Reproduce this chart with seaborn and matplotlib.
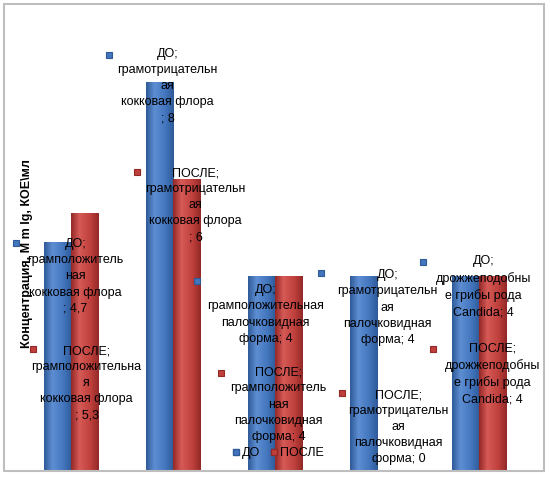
import matplotlib
matplotlib.use('Agg')
import matplotlib.pyplot as plt
import matplotlib.transforms as mtransforms
from matplotlib.colors import LinearSegmentedColormap
from matplotlib.lines import Line2D
from matplotlib.patches import Rectangle
import numpy as np
import pandas as pd
import seaborn as sns

categories = ['грамположительная кокковая флора', 'грамотрицательная кокковая флора',
              'грамположительная палочковидная форма', 'грамотрицательная палочковидная форма',
              'дрожжеподобные грибы рода Candida']
series = ['ДО', 'ПОСЛЕ']
before = [4.7, 8, 4, 4, 4]
after = [5.3, 6, 4, 0, 4]
y_label = 'Концентрация, M m lg, КОЕ\\мл'

# переносы строк в подписях, как в исходной диаграмме (ДО, ПОСЛЕ)
wrapped = [
    ('грамположитель\nная\nкокковая флора\n', 'грамположительна\nя\nкокковая флора\n'),
    ('грамотрицательн\nая\nкокковая флора\n', 'грамотрицательн\nая\nкокковая флора\n'),
    ('грамположительная\nпалочковидная\nформа', 'грамположитель\nная\nпалочковидная\nформа'),
    ('грамотрицательн\nая\nпалочковидная\nформа', 'грамотрицательн\nая\nпалочковидная\nформа'),
    ('дрожжеподобны\nе грибы рода\nCandida', 'дрожжеподобны\nе грибы рода\nCandida'),
]

# смещения подписей (пиксели) от верха столбца: текст (dx, dy), маркер (mdx, mdy)
label_offsets = {
    'ДО': [(18, 4), (8, -26), (4, 16), (24, 1), (18, -13)],
    'ПОСЛЕ': [(2, 140), (9, -4), (-10, 98), (8, -74), (0, 74)],
}
marker_offsets = {
    'ДО': [(-59, -3), (-58, -1), (-68, -11), (-66, -4), (-60, -1)],
    'ПОСЛЕ': [(-54, -4), (-59, -3), (-58, -1), (-57, -4), (-60, -1)],
}

blue = '#4376BE'
red = '#BF403C'
shades = {
    blue: ['#2F5A98', '#5E8ED2', '#4376BE', '#2F5A98'],
    red: ['#932927', '#D65A56', '#BF403C', '#932927'],
}

df = pd.DataFrame({
    'category': categories * 2,
    'period': [series[0]] * 5 + [series[1]] * 5,
    'value': before + after,
})

plt.rcParams['font.family'] = ['Liberation Sans', 'DejaVu Sans']

fig = plt.figure(figsize=(5.5, 4.79), dpi=100)
W, H = 550, 479
ax = fig.add_axes([20 / W, (H - 471) / H, 510 / W, 467 / H])

sns.barplot(data=df, x='category', y='value', hue='period', hue_order=series,
            palette=[blue, red], width=0.53, gap=0, legend=False, ax=ax,
            saturation=1, linewidth=0)

# цилиндрическая заливка столбцов
grad = np.linspace(0, 1, 64).reshape(1, -1)
for bar in list(ax.patches):
    h = bar.get_height()
    if h <= 0:
        continue
    col = blue if np.allclose(bar.get_facecolor()[:3], matplotlib.colors.to_rgb(blue)) else red
    cmap = LinearSegmentedColormap.from_list('b', list(zip([0, 0.3, 0.7, 1], shades[col])))
    x0, w = bar.get_x(), bar.get_width()
    im = ax.imshow(grad, cmap=cmap, aspect='auto', extent=(x0, x0 + w, 0, h),
                   interpolation='bilinear', zorder=bar.get_zorder() + 0.1)
    im.set_clip_path(bar)
ax.set_xlim(-0.5, 4.5)
ax.set_ylim(0, 9.6)

for s in ax.spines.values():
    s.set_visible(False)
ax.set_xticks([])
ax.set_yticks([])
ax.set_xlabel('')
ax.set_ylabel('')

# подписи данных
n = len(categories)
for si, name in enumerate(series):
    vals = before if si == 0 else after
    col = blue if si == 0 else red
    for i in range(n):
        xc = i + (-0.1325 if si == 0 else 0.1325)
        v = vals[i]
        vtxt = ('%g' % v).replace('.', ',')
        txt = name + ';\n' + wrapped[i][si] + '; ' + vtxt
        dx, dy = label_offsets[name][i]
        ax.annotate(txt, xy=(xc, v), xytext=(dx, -dy + 8), textcoords='offset pixels',
                    ha='center', va='top', fontsize=9, linespacing=1.45,
                    color='black', zorder=5, annotation_clip=False)
        mdx, mdy = marker_offsets[name][i]
        tr = mtransforms.offset_copy(ax.transData, fig=fig, x=dx + mdx, y=-(dy + mdy),
                                     units='dots')
        ax.plot([xc], [v], marker='s', ms=5, color=col, mec=shades[col][0], mew=0.8,
                transform=tr, clip_on=False, zorder=6)

fig.text(27 / W, 1 - 254 / H, y_label, rotation=90, ha='center', va='center',
         fontsize=9, fontweight='bold')

handles = [Line2D([], [], ls='', marker='s', ms=5, color=blue, mec=shades[blue][0]),
           Line2D([], [], ls='', marker='s', ms=5, color=red, mec=shades[red][0])]
fig.legend(handles, series, loc='center', bbox_to_anchor=(278 / W, 1 - 453 / H),
           ncol=2, frameon=False, fontsize=9, handlelength=0.6, handletextpad=0.2,
           columnspacing=0.8, borderpad=0)

fig.add_artist(Rectangle((4 / W, (H - 471) / H), 540 / W, 467 / H, transform=fig.transFigure,
                         fill=False, edgecolor='#BEBEBE', linewidth=1.5))

fig.savefig('out.png', dpi=100)
